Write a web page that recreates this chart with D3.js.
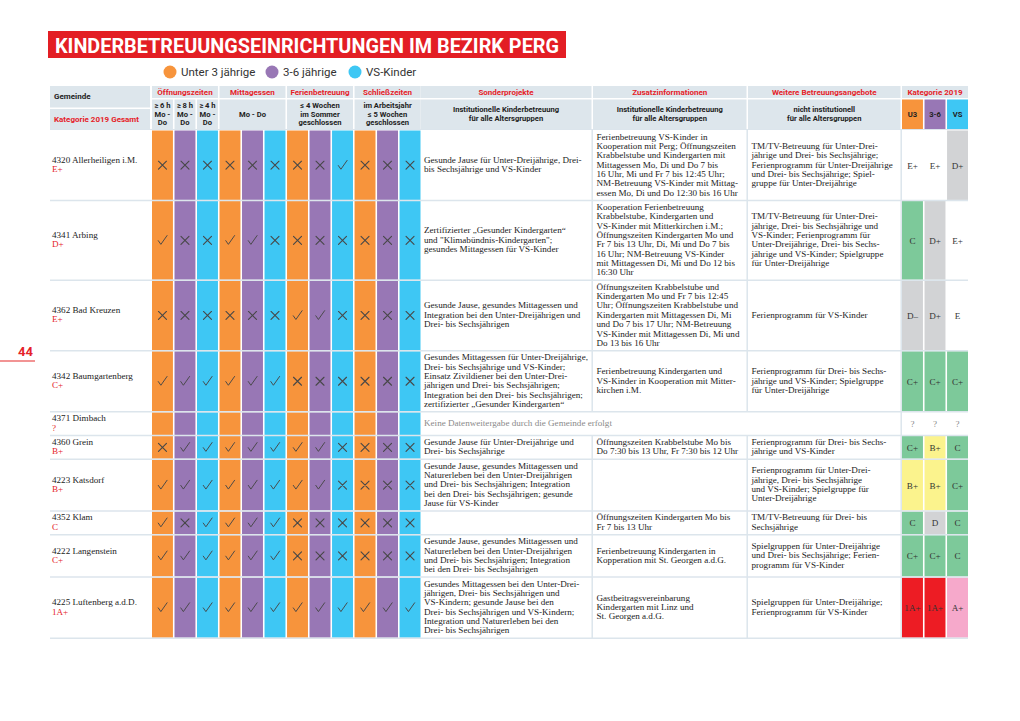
<!DOCTYPE html>
<html><head><meta charset="utf-8">
<script src="https://cdn.jsdelivr.net/npm/d3@7"></script>
<style>body{margin:0;background:#fff}</style>
</head><body>
<svg id="c" width="1020" height="721"></svg>
<script>
const title = "KINDERBETREUUNGSEINRICHTUNGEN IM BEZIRK PERG";
const legendLabels = ["Unter 3 jährige", "3-6 jährige", "VS-Kinder"];
const groupLabels = ["Öffnungszeiten", "Mittagessen", "Ferienbetreuung", "Schließzeiten"];
const subLabels = [["≥ 6 h","Mo -","Do"],["≥ 8 h","Mo -","Do"],["≥ 4 h","Mo -","Do"]];
const mittagLabel = ["Mo - Do"];
const ferienLabel = ["≤ 4 Wochen","im Sommer","geschlossen"];
const schliessLabel = ["im Arbeitsjahr","≤ 5 Wochen","geschlossen"];
const textHeads = ["Sonderprojekte", "Zusatzinformationen", "Weitere Betreuungsangebote"];
const textSubHeads = [["Institutionelle Kinderbetreuung","für alle Altersgruppen"],["Institutionelle Kinderbetreuung","für alle Altersgruppen"],["nicht institutionell","für alle Altersgruppen"]];
const katHead = "Kategorie 2019";
const katSubHeads = ["U3", "3-6", "VS"];

const gemeinden = ["4320 Allerheiligen i.M.","4341 Arbing","4362 Bad Kreuzen","4342 Baumgartenberg","4371 Dimbach","4360 Grein","4223 Katsdorf","4352 Klam","4222 Langenstein","4225 Luftenberg a.d.D."];
const gesamt = ["E+","D+","E+","C+","?","B+","B+","C","C+","1A+"];
// 1 = ✓, 0 = ✕, null = no entry
const marks = [
  [0,0,0,0,0,0,0,0,1,0,0,0],
  [1,0,0,1,1,0,0,0,0,0,0,0],
  [0,0,0,0,0,0,1,1,0,0,0,0],
  [1,1,1,1,1,1,0,0,0,0,0,0],
  [null,null,null,null,null,null,null,null,null,null,null,null],
  [0,1,1,1,1,1,1,1,0,0,0,0],
  [1,1,1,1,1,1,1,1,0,0,0,0],
  [1,0,1,1,1,1,0,0,0,0,0,0],
  [1,1,1,1,1,1,0,0,0,0,0,0],
  [1,1,1,1,1,1,1,1,1,1,1,1]
];
const sonder = [
  "Gesunde Jause für Unter-Dreijährige, Drei-\nbis Sechsjährige und VS-Kinder",
  "Zertifizierter „Gesunder Kindergarten“\nund \"Klimabündnis-Kindergarten\";\ngesundes Mittagessen für VS-Kinder",
  "Gesunde Jause, gesundes Mittagessen und\nIntegration bei den Unter-Dreijährigen und\nDrei- bis Sechsjährigen",
  "Gesundes Mittagessen für Unter-Dreijährige,\nDrei- bis Sechsjährige und VS-Kinder;\nEinsatz Zivildiener bei den Unter-Drei-\njährigen und Drei- bis Sechsjährigen;\nIntegration bei den Drei- bis Sechsjährigen;\nzertifizierter „Gesunder Kindergarten“",
  "Keine Datenweitergabe durch die Gemeinde erfolgt",
  "Gesunde Jause für Unter-Dreijährige und\nDrei- bis Sechsjährige",
  "Gesunde Jause, gesundes Mittagessen und\nNaturerleben bei den Unter-Dreijährigen\nund Drei- bis Sechsjährigen; Integration\nbei den Drei- bis Sechsjährigen; gesunde\nJause für VS-Kinder",
  "",
  "Gesunde Jause, gesundes Mittagessen und\nNaturerleben bei den Unter-Dreijährigen\nund Drei- bis Sechsjährigen; Integration\nbei den Drei- bis Sechsjährigen",
  "Gesundes Mittagessen bei den Unter-Drei-\njährigen, Drei- bis Sechsjährigen und\nVS-Kindern; gesunde Jause bei den\nDrei- bis Sechsjährigen und VS-Kindern;\nIntegration und Naturerleben bei den\nDrei- bis Sechsjährigen"
];
const zusatz = [
  "Ferienbetreuung VS-Kinder in\nKooperation mit Perg; Öffnungszeiten\nKrabbelstube und Kindergarten mit\nMittagessen Mo, Di und Do 7 bis\n16 Uhr, Mi und Fr 7 bis 12:45 Uhr;\nNM-Betreuung VS-Kinder mit Mittag-\nessen Mo, Di und Do 12:30 bis 16 Uhr",
  "Kooperation Ferienbetreuung\nKrabbelstube, Kindergarten und\nVS-Kinder mit Mitterkirchen i.M.;\nÖffnungszeiten Kindergarten Mo und\nFr 7 bis 13 Uhr, Di, Mi und Do 7 bis\n16 Uhr; NM-Betreuung VS-Kinder\nmit Mittagessen Di, Mi und Do 12 bis\n16:30 Uhr",
  "Öffnungszeiten Krabbelstube und\nKindergarten Mo und Fr 7 bis 12:45\nUhr; Öffnungszeiten Krabbelstube und\nKindergarten mit Mittagessen Di, Mi\nund Do 7 bis 17 Uhr; NM-Betreuung\nVS-Kinder mit Mittagessen Di, Mi und\nDo 13 bis 16 Uhr",
  "Ferienbetreuung Kindergarten und\nVS-Kinder in Kooperation mit Mitter-\nkirchen i.M.",
  "",
  "Öffnungszeiten Krabbelstube Mo bis\nDo 7:30 bis 13 Uhr, Fr 7:30 bis 12 Uhr",
  "",
  "Öffnungszeiten Kindergarten Mo bis\nFr 7 bis 13 Uhr",
  "Ferienbetreuung Kindergarten in\nKopperation mit St. Georgen a.d.G.",
  "Gastbeitragsvereinbarung\nKindergarten mit Linz und\nSt. Georgen a.d.G."
];
const weitere = [
  "TM/TV-Betreuung für Unter-Drei-\njährige und Drei- bis Sechsjährige;\nFerienprogramm für Unter-Dreijährige\nund Drei- bis Sechsjährige; Spiel-\ngruppe für Unter-Dreijährige",
  "TM/TV-Betreuung für Unter-Drei-\njährige, Drei- bis Sechsjährige und\nVS-Kinder; Ferienprogramm für\nUnter-Dreijährige, Drei- bis Sechs-\njährige und VS-Kinder; Spielgruppe\nfür Unter-Dreijährige",
  "Ferienprogramm für VS-Kinder",
  "Ferienprogramm für Drei- bis Sechs-\njährige und VS-Kinder; Spielgruppe\nfür Unter-Dreijährige",
  "",
  "Ferienprogramm für Drei- bis Sechs-\njährige und VS-Kinder",
  "Ferienprogramm für Unter-Drei-\njährige, Drei- bis Sechsjährige\nund VS-Kinder; Spielgruppe für\nUnter-Dreijährige",
  "TM/TV-Betreuung für Drei- bis\nSechsjährige",
  "Spielgruppen für Unter-Dreijährige\nund Drei- bis Sechsjährige; Ferien-\nprogramm für VS-Kinder",
  "Spielgruppen für Unter-Dreijährige;\nFerienprogramm für VS-Kinder"
];
const katU3 = ["E+","C","D–","C+","?","C+","B+","C","C+","1A+"];
const kat36 = ["E+","D+","D+","C+","?","B+","B+","D","C+","1A+"];
const katVS = ["D+","E+","E","C+","?","C","C+","C","C","A+"];

// ---------- styles ----------
const C_OR = "#F7943C", C_PU = "#9877B5", C_BL = "#3EC7F4";
const colColors = [C_OR, C_PU, C_BL];
const RED = "#E52229", HEADBG = "#DDE6EC", SEP = "#DCE5EC";
const SERIF = "'Liberation Serif','DejaVu Serif',serif";
const COND = "'Liberation Sans Narrow','Arial Narrow','Roboto',sans-serif";
const FS = 9.1;
function gradeColor(g){
  if (g === "1A+") return "#ED1C24";
  if (g[0] === "A") return "#F6A9CB";
  if (g[0] === "B") return "#FBF38D";
  if (g[0] === "C") return "#7DC99A";
  if (g[0] === "D") return "#D2D3D5";
  return "#FFFFFF";
}

const svg = d3.select("#c");

// title
svg.append("rect").attr("x",48).attr("y",31).attr("width",518).attr("height",27).attr("fill","#E31E24");
svg.append("text").attr("x",55).attr("y",52.5).text(title)
  .attr("fill","#fff").attr("font-family",COND).attr("font-weight",700).attr("font-size",21)
  .attr("textLength",504).attr("lengthAdjust","spacingAndGlyphs");

// legend
const lg = svg.append("g").selectAll("g").data(legendLabels).join("g")
  .attr("transform",(d,i)=>`translate(${[170,272,355][i]},72)`);
lg.append("circle").attr("r",6.5).attr("fill",(d,i)=>colColors[i]);
lg.append("text").attr("x",11).attr("y",4).text(d=>d).attr("font-family","Roboto,sans-serif")
  .attr("font-size",11.5).attr("fill","#333");

// page number
svg.append("text").attr("x",18).attr("y",356).text("44").attr("fill",RED)
  .attr("font-family","Roboto,sans-serif").attr("font-weight",700).attr("font-size",13);
svg.append("line").attr("x1",0).attr("x2",35).attr("y1",361).attr("y2",361).attr("stroke","#EE7070").attr("stroke-width",1.5);

// scales
const xc = d3.scaleBand().domain(d3.range(12)).range([152,420.5]).paddingInner(0.07);
const xk = d3.scaleBand().domain(d3.range(3)).range([902,968]).paddingInner(0.07);
const textCols = [{x0:420.5,x1:591.5},{x0:593,x1:746.5},{x0:748,x1:900.5}];

// header
const H1 = 86, H1h = 12, H2 = 99.5, H2h = 29.5;
const hg = svg.append("g");
hg.append("rect").attr("x",50).attr("y",H1).attr("width",100).attr("height",21.5).attr("fill",HEADBG);
hg.append("rect").attr("x",50).attr("y",109).attr("width",100).attr("height",20).attr("fill",HEADBG);
hg.append("text").attr("x",54).attr("y",99).text("Gemeinde").attr("font-family",COND).attr("font-weight",700).attr("font-size",8).attr("fill","#222");
hg.append("text").attr("x",54).attr("y",122).text("Kategorie 2019 Gesamt").attr("font-family",COND).attr("font-weight",700).attr("font-size",8).attr("fill",RED);

groupLabels.forEach((g,i)=>{
  const x0 = xc(3*i), x1 = xc(3*i+2)+xc.bandwidth();
  hg.append("rect").attr("x",x0).attr("y",H1).attr("width",x1-x0).attr("height",H1h).attr("fill",HEADBG);
  hg.append("text").attr("x",(x0+x1)/2).attr("y",H1+9).attr("text-anchor","middle").text(g)
    .attr("font-family",COND).attr("font-weight",700).attr("font-size",8).attr("fill",RED);
});
function multi(sel, lines, cx, cy, lh, fs){
  const t = sel.append("text").attr("text-anchor","middle").attr("font-family",COND).attr("font-weight",700)
    .attr("font-size",fs).attr("fill","#222");
  const top = cy - lines.length*lh/2;
  lines.forEach((l,j)=>t.append("tspan").attr("x",cx).attr("y",top + j*lh + lh*0.78).text(l));
}
// sub headers
subLabels.forEach((s,i)=>{
  hg.append("rect").attr("x",xc(i)).attr("y",H2).attr("width",xc.bandwidth()).attr("height",H2h).attr("fill",HEADBG);
  multi(hg, s, xc(i)+xc.bandwidth()/2, H2+H2h/2, 8.6, 7.6);
});
[mittagLabel, ferienLabel, schliessLabel].forEach((s,k)=>{
  const i = k+1, x0 = xc(3*i), x1 = xc(3*i+2)+xc.bandwidth();
  hg.append("rect").attr("x",x0).attr("y",H2).attr("width",x1-x0).attr("height",H2h).attr("fill",HEADBG);
  multi(hg, s, (x0+x1)/2, H2+H2h/2, 8.6, 7.6);
});
textCols.forEach((c,i)=>{
  hg.append("rect").attr("x",c.x0).attr("y",H1).attr("width",c.x1-c.x0).attr("height",H1h).attr("fill",HEADBG);
  hg.append("text").attr("x",(c.x0+c.x1)/2).attr("y",H1+9).attr("text-anchor","middle").text(textHeads[i])
    .attr("font-family",COND).attr("font-weight",700).attr("font-size",8).attr("fill",RED);
  hg.append("rect").attr("x",c.x0).attr("y",H2).attr("width",c.x1-c.x0).attr("height",H2h).attr("fill",HEADBG);
  multi(hg, textSubHeads[i], (c.x0+c.x1)/2, H2+H2h/2, 9, 7.6);
});
hg.append("rect").attr("x",902).attr("y",H1).attr("width",66).attr("height",H1h).attr("fill",HEADBG);
hg.append("text").attr("x",935).attr("y",H1+9).attr("text-anchor","middle").text(katHead)
  .attr("font-family",COND).attr("font-weight",700).attr("font-size",8).attr("fill",RED);
katSubHeads.forEach((s,i)=>{
  hg.append("rect").attr("x",xk(i)).attr("y",H2).attr("width",xk.bandwidth()).attr("height",H2h).attr("fill",colColors[i]);
  multi(hg,[s], xk(i)+xk.bandwidth()/2, H2+H2h/2+0.5, 9, 7.6);
});

// rows
const LH = 9.35;
const nLines = gemeinden.map((g,i)=>Math.max(2, ...[sonder[i],zusatz[i],weitere[i]].map(s=>s? s.split("\n").length:0)));
const heights = nLines.map(n=>n*LH+5);
const tops = []; let acc = 130;
heights.forEach(h=>{tops.push(acc); acc+=h;});
const bottom = acc;

function markPath(d, cx, cy){
  if (d === 0) return `M${cx-4},${cy-4}L${cx+4},${cy+4}M${cx+4},${cy-4}L${cx-4},${cy+4}`;
  if (d === 1) return `M${cx-4.2},${cy+0.3}L${cx-1.6},${cy+4}L${cx+4.6},${cy-4.8}`;
  return "";
}

const rows = svg.append("g").selectAll("g").data(gemeinden).join("g");

rows.each(function(g,i){
  const r = d3.select(this);
  const y0 = tops[i], h = heights[i];
  r.selectAll("rect.cell").data(marks[i]).join("rect").attr("class","cell")
    .attr("x",(d,j)=>xc(j)).attr("y",y0+0.5).attr("width",xc.bandwidth()).attr("height",h-1)
    .attr("fill",(d,j)=>colColors[j%3]);
  r.selectAll("path.mark").data(marks[i]).join("path").attr("class","mark")
    .attr("d",(d,j)=>markPath(d, xc(j)+xc.bandwidth()/2, y0+h/2))
    .attr("fill","none").attr("stroke","#474747")
    .attr("stroke-width",d=>d===1?0.95:1.1).attr("stroke-linecap","round").attr("stroke-linejoin","round");
  // category cells
  const ks = [katU3[i],kat36[i],katVS[i]];
  r.selectAll("rect.kat").data(ks).join("rect").attr("class","kat")
    .attr("x",(d,j)=>xk(j)).attr("y",y0+0.5).attr("width",xk.bandwidth()).attr("height",h-1)
    .attr("fill",d=>gradeColor(d));
  r.selectAll("text.kat").data(ks).join("text").attr("class","kat")
    .attr("x",(d,j)=>xk(j)+xk.bandwidth()/2).attr("y",y0+h/2+3.5)
    .attr("text-anchor","middle").attr("font-family",SERIF).attr("font-size",FS)
    .attr("fill",d=>d==="?"?"#888":"#333").text(d=>d);
  // name block
  const nt = r.append("text").attr("font-family",SERIF).attr("font-size",FS);
  const ntop = y0 + h/2 - LH;
  nt.append("tspan").attr("x",52).attr("y",ntop+7).attr("fill","#222").text(g);
  nt.append("tspan").attr("x",52).attr("y",ntop+7+LH).attr("fill",RED).text(gesamt[i]);
  // text columns
  [sonder[i],zusatz[i],weitere[i]].forEach((s,k)=>{
    if(!s) return;
    const lines = s.split("\n");
    const t = r.append("text").attr("font-family",SERIF).attr("font-size",FS)
      .attr("fill", marks[i][0]===null ? "#8a8a8a" : "#222");
    const top = y0 + h/2 - lines.length*LH/2;
    lines.forEach((l,j)=>t.append("tspan").attr("x",textCols[k].x0+3.5).attr("y",top+j*LH+7).text(l));
  });
  // vertical separators
  if (marks[i][0] !== null){
    [592.2, 747.2].forEach(x=>r.append("line").attr("x1",x).attr("x2",x).attr("y1",y0).attr("y2",y0+h)
      .attr("stroke",SEP).attr("stroke-width",1.5));
  }
  r.append("line").attr("x1",901.2).attr("x2",901.2).attr("y1",y0).attr("y2",y0+h).attr("stroke",SEP).attr("stroke-width",1.5);
});
// horizontal separators
const seps = tops.slice(1).concat([bottom]);
svg.append("g").selectAll("line").data(seps).join("line")
  .attr("x1",50).attr("x2",968).attr("y1",d=>d).attr("y2",d=>d)
  .attr("stroke",SEP).attr("stroke-width",1.5);
svg.append("line").attr("x1",50).attr("x2",968).attr("y1",129.5).attr("y2",129.5).attr("stroke",SEP).attr("stroke-width",1);
</script>
</body></html>
